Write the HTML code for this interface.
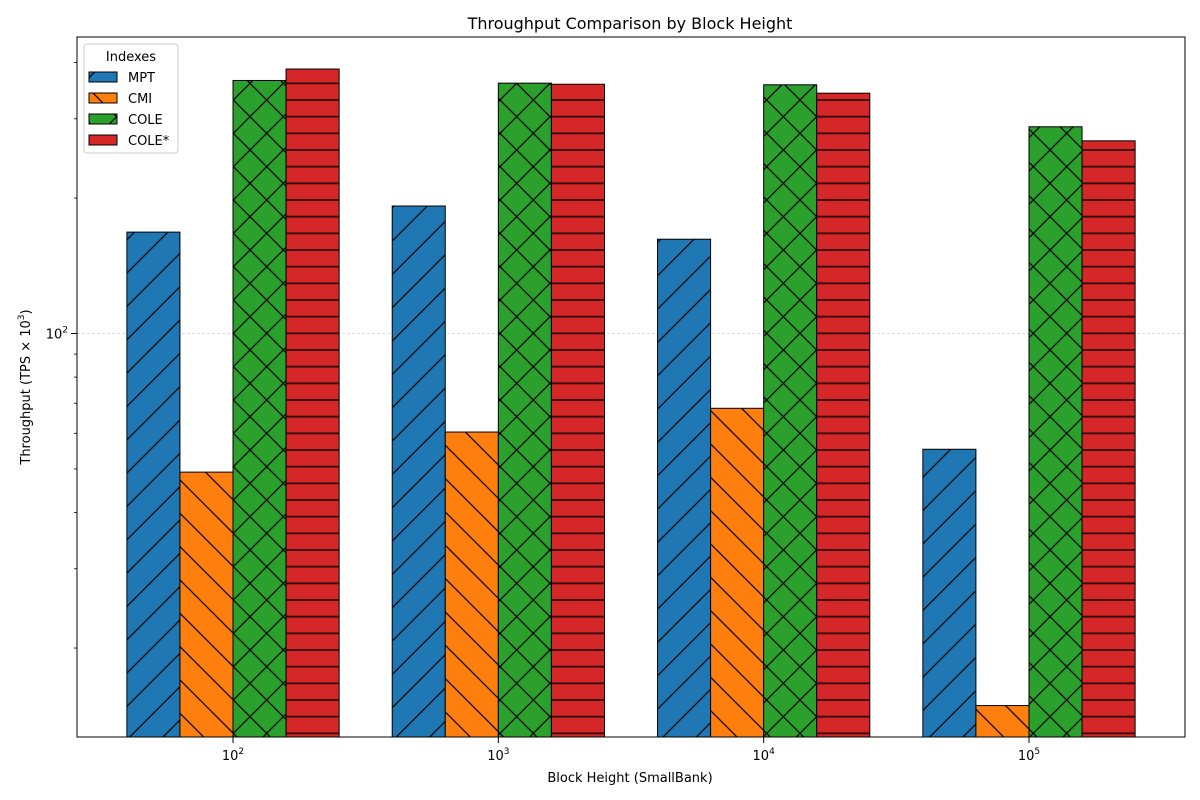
<!DOCTYPE html>
<html><head><meta charset="utf-8"><style>
body{margin:0;background:#fff;}
svg{display:block;font-family:"DejaVu Sans","Liberation Sans",sans-serif;}
</style></head><body>
<svg id="chart" width="1200" height="800" viewBox="0 0 1200 800">
<defs>
<pattern id="h-mpt" patternUnits="userSpaceOnUse" width="33.333" height="33.333"><rect width="34" height="34" fill="#1f77b4"/><path d="M0,33.333L33.333,0M-5,5L5,-5M28.333,38.333L38.333,28.333" stroke="#000" stroke-width="1.2"/></pattern>
<pattern id="h-cmi" patternUnits="userSpaceOnUse" width="33.333" height="33.333"><rect width="34" height="34" fill="#ff7f0e"/><path d="M0,0L33.333,33.333M-5,28.333L5,38.333M28.333,-5L38.333,5" stroke="#000" stroke-width="1.2"/></pattern>
<pattern id="h-cole" patternUnits="userSpaceOnUse" width="33.333" height="33.333"><rect width="34" height="34" fill="#2ca02c"/><path d="M0,33.333L33.333,0M-5,5L5,-5M28.333,38.333L38.333,28.333M0,0L33.333,33.333M-5,28.333L5,38.333M28.333,-5L38.333,5" stroke="#000" stroke-width="1.2"/></pattern>
<pattern id="h-colestar" patternUnits="userSpaceOnUse" width="33.333" height="16.6667"><rect width="34" height="17" fill="#d62728"/><path d="M0,0H34M0,16.6667H34" stroke="#3a0a0a" stroke-width="2"/></pattern>
</defs>
<text x="630" y="29" font-size="16" text-anchor="middle">Throughput Comparison by Block Height</text>
<g id="plot"></g>
<rect x="77" y="37" width="1108" height="700" fill="none" stroke="#000" stroke-width="1"/>
<text x="630" y="782" font-size="13" text-anchor="middle">Block Height (SmallBank)</text>
<text transform="translate(30,387) rotate(-90)" font-size="13" text-anchor="middle">Throughput (TPS × 10<tspan dy="-6" font-size="9">3</tspan><tspan dy="6">)</tspan></text>
<g>
<rect x="84" y="44" width="94" height="109" rx="3" fill="#fff" fill-opacity="0.8" stroke="#ccc"/>
<text x="131" y="61" font-size="13" text-anchor="middle">Indexes</text>
<g><rect x="89" y="72" width="28" height="10" fill="url(#h-mpt)" stroke="#000"/><text x="128" y="82" font-size="13">MPT</text></g>
<g><rect x="89" y="93" width="28" height="10" fill="url(#h-cmi)" stroke="#000"/><text x="128" y="103" font-size="13">CMI</text></g>
<g><rect x="89" y="114" width="28" height="10" fill="url(#h-cole)" stroke="#000"/><text x="128" y="124" font-size="13">COLE</text></g>
<g><rect x="89" y="135" width="28" height="10" fill="url(#h-colestar)" stroke="#000"/><text x="128" y="145" font-size="13">COLE*</text></g>
</g>
</svg>
<script>
const categories = ["2", "3", "4", "5"];
const seriesNames = ["MPT", "CMI", "COLE", "COLE*"];
const mptValues = [168, 192, 162, 55.3];
const cmiValues = [49.2, 60.4, 68.2, 14.9];
const coleValues = [365, 360, 357, 288];
const coleStarValues = [387, 358, 342, 268];
const yMinorTicks = [20, 30, 40, 50, 60, 70, 80, 90, 200, 300, 400];

const NS = "http://www.w3.org/2000/svg";
const plot = document.getElementById('plot');
const X0 = 77, X1 = 1185, Y0 = 37, Y1 = 737;
const xMin = -0.588, xMax = 3.588;
const logMin = 2 - (737 - 333.5) / 450, logMax = 2 + (333.5 - 37) / 450;
function xs(v){ return X0 + (v - xMin) / (xMax - xMin) * (X1 - X0); }
function ys(v){ return Y1 - (Math.log10(v) - logMin) / (logMax - logMin) * (Y1 - Y0); }
function mk(tag, attrs){ const e = document.createElementNS(NS, tag); for (const k in attrs) e.setAttribute(k, attrs[k]); plot.appendChild(e); return e; }

// gridline at 10^2
const g = mk('line', {x1: X0, x2: X1, y1: ys(100), y2: ys(100), stroke: '#bbb', 'stroke-width': 0.6, 'stroke-dasharray': '3,2'});


// major y tick
const yt = mk('line', {x1: X0 - 6, x2: X0, y1: ys(100), y2: ys(100), stroke: '#000'});


const ytl = mk('text', {x: X0 - 9, y: ys(100) + 5, 'font-size': 13, 'text-anchor': 'end'});
ytl.innerHTML = '10<tspan dy="-6" font-size="9">2</tspan>';


yMinorTicks.forEach(v => {
  const t = mk('line', {x1: X0 - 3, x2: X0, y1: ys(v), y2: ys(v), stroke: '#000', 'stroke-width': 0.8});
  
  
});

const allSeries = [mptValues, cmiValues, coleValues, coleStarValues];
const fills = ['url(#h-mpt)', 'url(#h-cmi)', 'url(#h-cole)', 'url(#h-colestar)'];
const barW = 0.2;
allSeries.forEach((vals, s) => {
  vals.forEach((v, i) => {
    const cx = i + (s - 1.5) * barW;
    const left = xs(cx - barW / 2), right = xs(cx + barW / 2);
    const top = ys(v);
    const r = mk('rect', {x: left, y: top, width: right - left, height: Y1 - top, fill: fills[s], stroke: '#000', 'stroke-width': 1});
    
    
  });
});

categories.forEach((c, i) => {
  const t = mk('line', {x1: xs(i), x2: xs(i), y1: Y1, y2: Y1 + 6, stroke: '#000'});
  
  
  const l = mk('text', {x: xs(i), y: Y1 + 23, 'font-size': 13, 'text-anchor': 'middle'});
  l.innerHTML = '10<tspan dy="-6" font-size="9">' + c + '</tspan>';
  
  
});
</script>
</body></html>
